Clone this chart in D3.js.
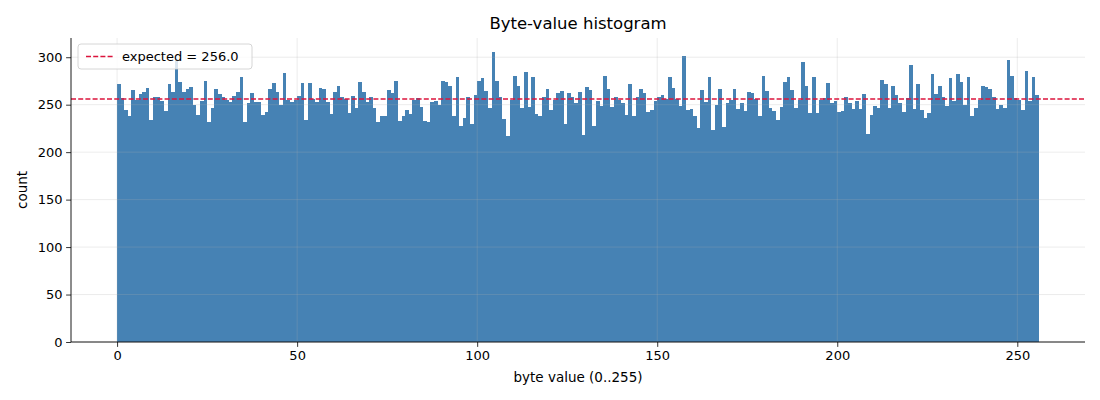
<!DOCTYPE html>
<html><head><meta charset="utf-8">
<script src="https://cdn.jsdelivr.net/npm/d3@7"></script>
<style>body{margin:0;background:#fff}svg{display:block}text{font-family:"DejaVu Sans",sans-serif}</style>
</head><body>
<svg id="c" width="1100" height="400"></svg>
<script>
const title = "Byte-value histogram";
const xLabel = "byte value (0..255)";
const yLabel = "count";
const expectedValue = 256.0;
const legendLabel = "expected = 256.0";
const xTicks = [0, 50, 100, 150, 200, 250];
const yTicks = [0, 50, 100, 150, 200, 250, 300];
const counts = [
272,257,244,238,265,255,261,263,268,234,258,258,254,243,272,263,
298,274,263,267,269,250,239,254,275,232,246,266,261,258,255,253,
259,263,279,232,252,262,253,253,239,242,267,273,263,250,283,255,
253,255,259,273,234,273,256,253,268,267,253,240,263,270,258,256,
241,259,246,274,263,253,258,247,232,238,238,265,262,275,233,238,
244,240,255,257,248,233,232,253,254,250,275,274,270,238,279,228,
236,258,230,260,275,278,264,247,305,275,258,235,217,255,280,270,
246,284,248,279,240,238,258,266,244,255,262,264,230,262,258,252,
263,218,269,265,228,254,249,280,267,248,258,255,252,239,272,238,
258,267,262,242,244,254,258,260,256,279,268,256,249,301,244,245,
238,225,265,253,279,223,250,266,226,252,255,266,245,252,243,263,
262,256,238,280,264,247,243,234,248,274,279,265,246,255,295,270,
241,279,241,255,257,273,252,254,242,243,258,252,245,254,245,261,
219,239,249,246,276,272,246,270,260,252,242,257,292,245,272,244,
236,241,282,261,270,258,249,278,254,282,274,250,279,238,247,255,
270,269,266,258,245,250,246,297,280,257,255,244,285,254,279,260];

const svg = d3.select("#c");
const L = 71, R = 1085, T = 38, B = 342;
const x = d3.scaleLinear().domain([-12.8, 268.8]).range([L, R]);
const ymax = d3.max(counts) * 1.05;
const y = d3.scaleLinear().domain([0, ymax]).range([B, T]);

// bars
svg.append("g").attr("shape-rendering", "crispEdges").selectAll("rect").data(counts).join("rect")
  .attr("x", (d, i) => x(i))
  .attr("width", (d, i) => x(i + 1) - x(i))
  .attr("y", d => y(d))
  .attr("height", d => B - y(d))
  .attr("fill", "#4682b4");

// grid (above bars, translucent)
const grid = svg.append("g").attr("stroke", "#b0b0b0").attr("stroke-opacity", 0.3).attr("stroke-width", 0.8);
xTicks.forEach(t => grid.append("line").attr("x1", x(t)).attr("x2", x(t)).attr("y1", T).attr("y2", B));
yTicks.forEach(t => grid.append("line").attr("x1", L).attr("x2", R).attr("y1", y(t)).attr("y2", y(t)));

// expected line
svg.append("line").attr("x1", L).attr("x2", R).attr("y1", y(expectedValue)).attr("y2", y(expectedValue))
  .attr("stroke", "#dc143c").attr("stroke-width", 1.3).attr("stroke-dasharray", "5,2.2");

// axes
const xa = svg.append("g").attr("transform", `translate(0,${B})`)
  .call(d3.axisBottom(x).tickValues(xTicks).tickSize(4.9).tickPadding(3.5).tickFormat(d3.format("d")));
const ya = svg.append("g").attr("transform", `translate(${L},0)`)
  .call(d3.axisLeft(y).tickValues(yTicks).tickSize(4.9).tickPadding(3.5).tickFormat(d3.format("d")));
[xa, ya].forEach(a => {
  a.selectAll("text").attr("font-size", 13).attr("fill", "#000").attr("font-family", "DejaVu Sans");
  a.selectAll("line").attr("stroke", "#000").attr("stroke-width", 0.8);
  a.select(".domain").remove();
});
svg.append("line").attr("x1", L).attr("x2", R).attr("y1", B).attr("y2", B).attr("stroke", "#000").attr("stroke-width", 0.9);
svg.append("line").attr("x1", L).attr("x2", L).attr("y1", T).attr("y2", B).attr("stroke", "#000").attr("stroke-width", 0.9);

// labels
svg.append("text").attr("x", (L + R) / 2).attr("y", 29).attr("text-anchor", "middle").attr("font-size", 16.5).text(title);
svg.append("text").attr("x", (L + R) / 2).attr("y", 382).attr("text-anchor", "middle").attr("font-size", 13.5).text(xLabel);
svg.append("text").attr("transform", `translate(27,${(T + B) / 2}) rotate(-90)`).attr("text-anchor", "middle").attr("font-size", 13.5).text(yLabel);

// legend
const lg = svg.append("g");
lg.append("rect").attr("x", 78).attr("y", 44).attr("width", 174).attr("height", 25).attr("rx", 3)
  .attr("fill", "#fff").attr("fill-opacity", 0.8).attr("stroke", "#cccccc").attr("stroke-width", 0.8);
lg.append("line").attr("x1", 86).attr("x2", 114).attr("y1", 56.5).attr("y2", 56.5)
  .attr("stroke", "#dc143c").attr("stroke-width", 1.3).attr("stroke-dasharray", "5,2.2");
lg.append("text").attr("x", 122).attr("y", 61).attr("font-size", 13).text(legendLabel);
</script>
</body></html>
